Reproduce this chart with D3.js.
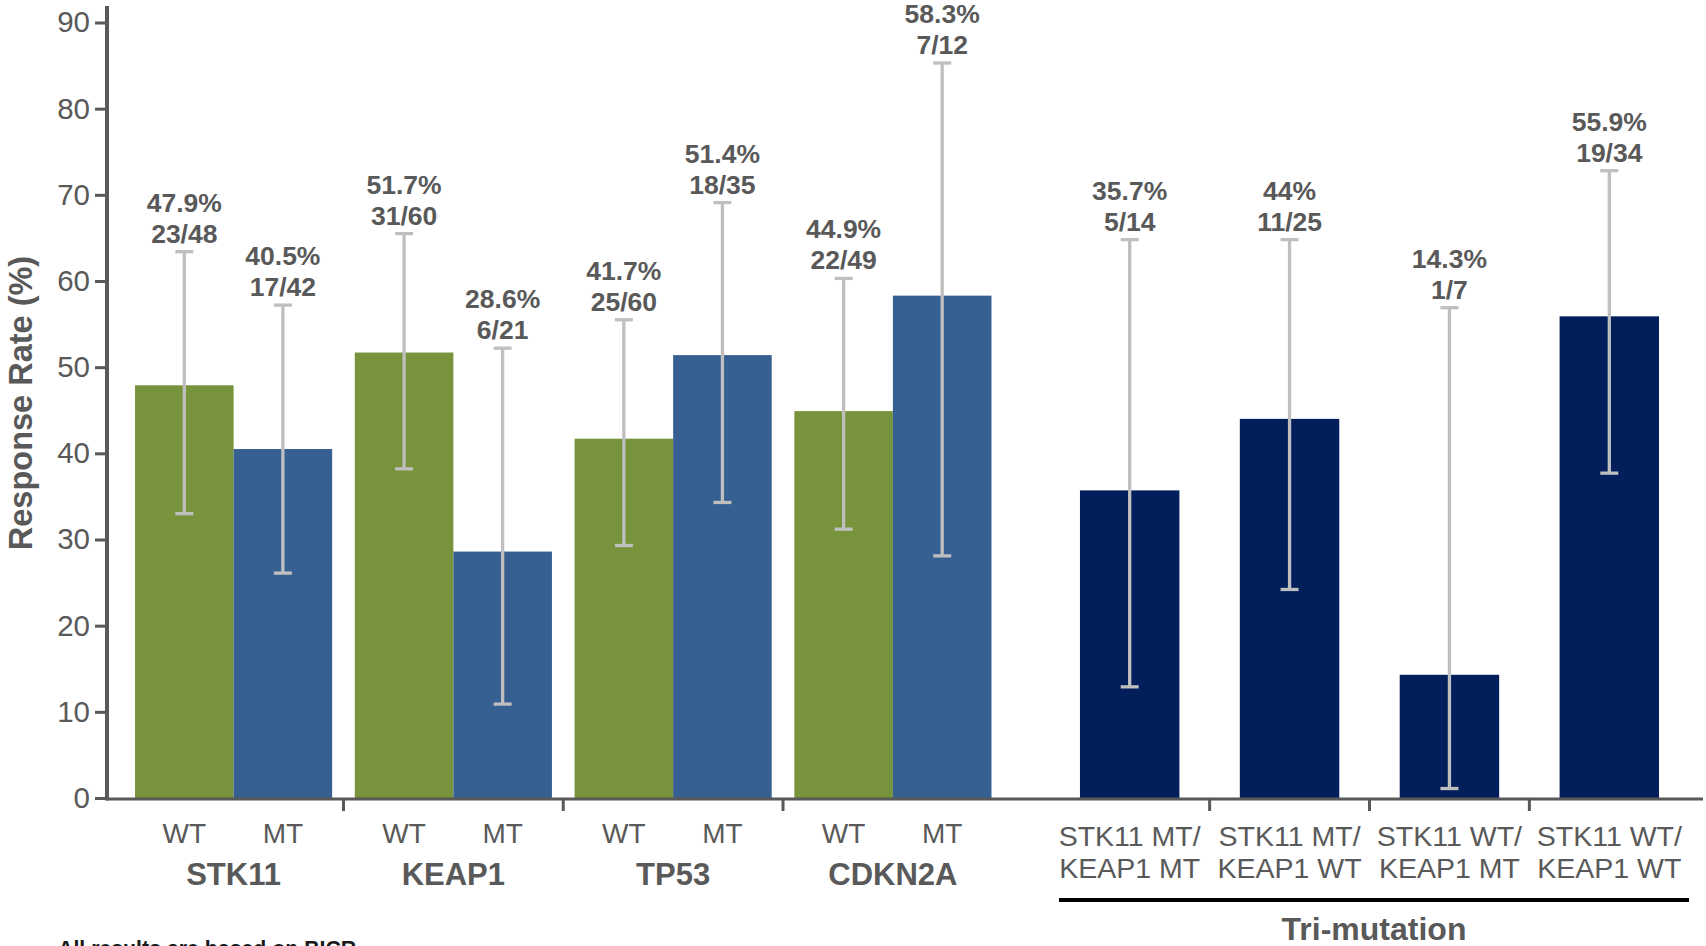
<!DOCTYPE html>
<html>
<head>
<meta charset="utf-8">
<script src="https://cdn.jsdelivr.net/npm/d3@7"></script>
<style>
  html, body { margin: 0; padding: 0; background: #ffffff; }
  svg { display: block; font-family: "Liberation Sans", Arial, sans-serif; }
</style>
</head>
<body>
<svg id="chart" width="1706" height="946"></svg>
<script>
// Single-gene groups: WT vs MT response rate with 95% CI
const genes = ["STK11", "KEAP1", "TP53", "CDKN2A"];
const statuses = ["WT", "MT"];

const wtRate  = [47.9, 51.7, 41.7, 44.9];
const wtCount = ["23/48", "31/60", "25/60", "22/49"];
const wtLow   = [33.0, 38.2, 29.3, 31.2];
const wtHigh  = [63.4, 65.5, 55.5, 60.3];

const mtRate  = [40.5, 28.6, 51.4, 58.3];
const mtCount = ["17/42", "6/21", "18/35", "7/12"];
const mtLow   = [26.1, 10.9, 34.3, 28.1];
const mtHigh  = [57.2, 52.2, 69.1, 85.3];

// STK11 / KEAP1 co-mutation subgroups
const comboLine1 = ["STK11 MT/", "STK11 MT/", "STK11 WT/", "STK11 WT/"];
const comboLine2 = ["KEAP1 MT", "KEAP1 WT", "KEAP1 MT", "KEAP1 WT"];
const comboRate  = [35.7, 44, 14.3, 55.9];
const comboCount = ["5/14", "11/25", "1/7", "19/34"];
const comboLow   = [12.9, 24.2, 1.1, 37.7];
const comboHigh  = [64.8, 64.8, 56.9, 72.8];

const yTicks = [0, 10, 20, 30, 40, 50, 60, 70, 80, 90];

const GREY_TEXT = "#595959";
const AXIS = "#595959";
const ERR = "#bfbfbf";
const statusColor = { WT: "#77933c", MT: "#376092" };
const comboColor = "#021f5c";

const svg = d3.select("#chart");

const y = d3.scaleLinear().domain([0, 90]).range([798, 22.5]);

const xGene = d3.scaleBand().domain(genes)
  .range([107, 1019.5]).paddingInner(0.103).paddingOuter(0.1275);
const xStatus = d3.scaleBand().domain(statuses)
  .range([0, xGene.bandwidth()]).padding(0);

const comboKeys = comboLine1.map((d, i) => d + comboLine2[i]);
const xCombo = d3.scaleBand().domain(comboKeys)
  .range([1040, 1699]).paddingInner(0.378).paddingOuter(0.25);

// Flatten all bars into one list of records
const bars = [];
genes.forEach((g, i) => {
  bars.push({ x: xGene(g) + xStatus("WT"), w: xStatus.bandwidth(), v: wtRate[i],
              n: wtCount[i], lo: wtLow[i], hi: wtHigh[i], c: statusColor.WT });
  bars.push({ x: xGene(g) + xStatus("MT"), w: xStatus.bandwidth(), v: mtRate[i],
              n: mtCount[i], lo: mtLow[i], hi: mtHigh[i], c: statusColor.MT });
});
comboKeys.forEach((k, i) => {
  bars.push({ x: xCombo(k), w: xCombo.bandwidth(), v: comboRate[i],
              n: comboCount[i], lo: comboLow[i], hi: comboHigh[i], c: comboColor });
});

// Bars
svg.append("g").selectAll("rect").data(bars).join("rect")
  .attr("x", d => d.x)
  .attr("width", d => d.w)
  .attr("y", d => y(d.v))
  .attr("height", d => y(0) - y(d.v))
  .attr("fill", d => d.c);

// X axis baseline and group separators
const xAxis = svg.append("g");
xAxis.append("line")
  .attr("x1", 107).attr("x2", 1703)
  .attr("y1", y(0) + 1).attr("y2", y(0) + 1)
  .attr("stroke", AXIS).attr("stroke-width", 3);

const geneSep = genes.slice(1).map(g => xGene(g) - xGene.step() * xGene.paddingInner() / 2);
const comboSep = comboKeys.slice(1).map(k => xCombo(k) - xCombo.step() * xCombo.paddingInner() / 2);
xAxis.selectAll("line.sep").data(geneSep.concat(comboSep)).join("line")
  .attr("class", "sep")
  .attr("x1", d => d).attr("x2", d => d)
  .attr("y1", y(0) + 1).attr("y2", y(0) + 13)
  .attr("stroke", AXIS).attr("stroke-width", 3);

// Y axis
const yAxis = svg.append("g").attr("transform", "translate(107,0)")
  .call(d3.axisLeft(y).tickValues(yTicks).tickSize(12).tickPadding(5).tickSizeOuter(0));
yAxis.select(".domain").remove();
yAxis.selectAll(".tick line").attr("stroke", AXIS).attr("stroke-width", 3);
yAxis.selectAll(".tick text")
  .attr("fill", GREY_TEXT)
  .style("font-size", "29.5px")
  .style("font-family", "'Liberation Sans', Arial, sans-serif");
svg.append("line")
  .attr("x1", 107).attr("x2", 107)
  .attr("y1", 6).attr("y2", y(0) + 2.5)
  .attr("stroke", AXIS).attr("stroke-width", 4);

svg.append("text")
  .attr("transform", `translate(32,${403}) rotate(-90)`)
  .attr("text-anchor", "middle")
  .attr("fill", GREY_TEXT)
  .style("font-size", "32.5px").style("font-weight", "bold")
  .text("Response Rate (%)");

// Error bars
const err = svg.append("g").attr("stroke", ERR).attr("stroke-width", 3.3);
err.selectAll("line.v").data(bars).join("line").attr("class", "v")
  .attr("x1", d => d.x + d.w / 2).attr("x2", d => d.x + d.w / 2)
  .attr("y1", d => y(d.lo)).attr("y2", d => y(d.hi));
err.selectAll("line.top").data(bars).join("line").attr("class", "top")
  .attr("x1", d => d.x + d.w / 2 - 9).attr("x2", d => d.x + d.w / 2 + 9)
  .attr("y1", d => y(d.hi)).attr("y2", d => y(d.hi));
err.selectAll("line.bot").data(bars).join("line").attr("class", "bot")
  .attr("x1", d => d.x + d.w / 2 - 9).attr("x2", d => d.x + d.w / 2 + 9)
  .attr("y1", d => y(d.lo)).attr("y2", d => y(d.lo));

// Value labels: rate and responders/total above each CI
const fmt = v => (Number.isInteger(v) ? String(v) : v.toFixed(1)) + "%";
const lab = svg.append("g").attr("fill", GREY_TEXT)
  .attr("text-anchor", "middle")
  .style("font-size", "26.5px").style("font-weight", "bold");
lab.selectAll("text.rate").data(bars).join("text").attr("class", "rate")
  .attr("x", d => d.x + d.w / 2)
  .attr("y", d => y(d.hi) - 40)
  .text(d => fmt(d.v));
lab.selectAll("text.cnt").data(bars).join("text").attr("class", "cnt")
  .attr("x", d => d.x + d.w / 2)
  .attr("y", d => y(d.hi) - 9)
  .text(d => d.n);

// Category labels under the axis
const cat = svg.append("g").attr("fill", GREY_TEXT).attr("text-anchor", "middle");
genes.forEach(g => {
  statuses.forEach(s => {
    cat.append("text")
      .attr("x", xGene(g) + xStatus(s) + xStatus.bandwidth() / 2)
      .attr("y", 843)
      .style("font-size", "28px")
      .text(s);
  });
  cat.append("text")
    .attr("x", xGene(g) + xGene.bandwidth() / 2)
    .attr("y", 884.5)
    .style("font-size", "31px").style("font-weight", "bold")
    .text(g);
});
comboKeys.forEach((k, i) => {
  const cx = xCombo(k) + xCombo.bandwidth() / 2;
  cat.append("text").attr("x", cx).attr("y", 846)
    .style("font-size", "28.5px").text(comboLine1[i]);
  cat.append("text").attr("x", cx).attr("y", 878)
    .style("font-size", "28.5px").text(comboLine2[i]);
});

// Bracket under the co-mutation subgroups
svg.append("line")
  .attr("x1", 1059).attr("x2", 1689)
  .attr("y1", 900).attr("y2", 900)
  .attr("stroke", "#000").attr("stroke-width", 4);
svg.append("text")
  .attr("x", (1059 + 1689) / 2).attr("y", 940)
  .attr("text-anchor", "middle").attr("fill", GREY_TEXT)
  .style("font-size", "32px").style("font-weight", "bold")
  .text("Tri-mutation");

// Footnote
svg.append("text")
  .attr("x", 58).attr("y", 956)
  .attr("fill", "#1a1a1a")
  .style("font-size", "21.3px").style("font-weight", "bold")
  .text("All results are based on BICR");
</script>
</body>
</html>
